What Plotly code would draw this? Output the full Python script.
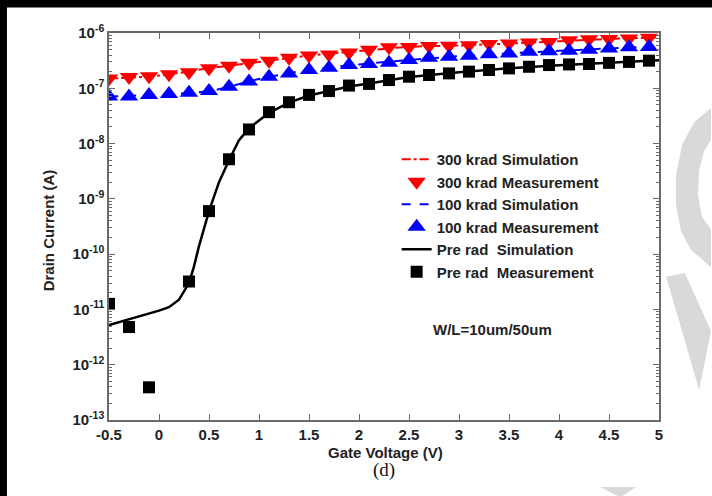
import plotly.graph_objects as go

# Gate voltage grid of the measurements (V)
vg_meas = [-0.5, -0.3, -0.1, 0.1, 0.3, 0.5, 0.7, 0.9, 1.1, 1.3, 1.5, 1.7, 1.9, 2.1,
           2.3, 2.5, 2.7, 2.9, 3.1, 3.3, 3.5, 3.7, 3.9, 4.1, 4.3, 4.5, 4.7, 4.9]

# 300 krad measurement (A)
id_300_meas = [1.5e-7, 1.6e-7, 1.65e-7, 1.8e-7, 1.95e-7, 2.3e-7, 2.55e-7, 2.9e-7, 3.15e-7,
               3.55e-7, 3.9e-7, 4.1e-7, 4.45e-7, 5.0e-7, 5.5e-7, 5.6e-7, 5.8e-7, 5.9e-7,
               6.0e-7, 6.3e-7, 6.45e-7, 6.75e-7, 6.9e-7, 7.4e-7, 7.7e-7, 7.8e-7, 7.95e-7, 8.2e-7]

# 100 krad measurement (A)
id_100_meas = [7.1e-8, 7.1e-8, 7.6e-8, 7.9e-8, 8.3e-8, 8.9e-8, 1.07e-7, 1.32e-7, 1.62e-7,
               1.86e-7, 2.14e-7, 2.34e-7, 2.63e-7, 2.75e-7, 2.9e-7, 3.24e-7, 3.55e-7, 3.72e-7,
               3.89e-7, 4.12e-7, 4.27e-7, 4.57e-7, 4.68e-7, 4.79e-7, 5.0e-7, 5.25e-7, 5.5e-7, 5.6e-7]

# Pre-rad measurement (no point at 0.1 V)
vg_pre_meas = [-0.5, -0.3, -0.1, 0.3, 0.5, 0.7, 0.9, 1.1, 1.3, 1.5, 1.7, 1.9, 2.1, 2.3,
               2.5, 2.7, 2.9, 3.1, 3.3, 3.5, 3.7, 3.9, 4.1, 4.3, 4.5, 4.7, 4.9]
id_pre_meas = [1.26e-11, 4.8e-12, 3.9e-13, 3.2e-11, 6.0e-10, 5.2e-9, 1.8e-8, 3.7e-8, 5.6e-8,
               7.6e-8, 8.9e-8, 1.12e-7, 1.2e-7, 1.41e-7, 1.62e-7, 1.74e-7, 1.86e-7, 2.0e-7,
               2.14e-7, 2.29e-7, 2.45e-7, 2.63e-7, 2.7e-7, 2.75e-7, 2.88e-7, 3.0e-7, 3.16e-7]

# Simulated curves
vg_sim = [-0.5, 0.0, 0.5, 1.0, 1.5, 2.0, 2.5, 3.0, 3.5, 4.0, 4.5, 5.0]
id_300_sim = [1.5e-7, 1.7e-7, 2.3e-7, 3.0e-7, 3.9e-7, 4.7e-7, 5.6e-7, 5.95e-7, 6.45e-7,
              7.1e-7, 7.8e-7, 8.3e-7]
id_100_sim = [7.1e-8, 7.7e-8, 8.9e-8, 1.47e-7, 2.14e-7, 2.7e-7, 3.24e-7, 3.8e-7, 4.27e-7,
              4.75e-7, 5.25e-7, 5.7e-7]

vg_pre_sim = [-0.5, -0.25, 0.0, 0.1, 0.2, 0.3, 0.35, 0.4, 0.45, 0.5, 0.6, 0.7, 0.8, 0.9,
              1.1, 1.3, 1.5, 1.7, 1.9, 2.1, 2.5, 3.0, 3.5, 4.0, 4.5, 5.0]
id_pre_sim = [5.2e-12, 7.0e-12, 9.5e-12, 1.1e-11, 1.5e-11, 3.0e-11, 6.0e-11, 1.4e-10, 3.0e-10,
              6.0e-10, 2.0e-9, 5.0e-9, 1.15e-8, 1.9e-8, 3.6e-8, 5.5e-8, 7.4e-8, 9.0e-8,
              1.08e-7, 1.22e-7, 1.6e-7, 1.95e-7, 2.3e-7, 2.6e-7, 2.9e-7, 3.2e-7]

x_ticks = [-0.5, 0, 0.5, 1, 1.5, 2, 2.5, 3, 3.5, 4, 4.5, 5]
x_tick_text = ["-0.5", "0", "0.5", "1", "1.5", "2", "2.5", "3", "3.5", "4", "4.5", "5"]
y_exponents = [-13, -12, -11, -10, -9, -8, -7, -6]

FONT = "Liberation Sans, Arial, sans-serif"
RED = "#ff0000"
BLUE = "#0000ff"
INK = "#222222"

fig = go.Figure()
fig.add_trace(go.Scatter(x=vg_sim, y=id_300_sim, mode="lines", name="300 krad Simulation",
                         line=dict(color=RED, width=2, dash="dashdot", shape="spline")))
fig.add_trace(go.Scatter(x=vg_meas, y=id_300_meas, mode="markers", name="300 krad Measurement",
                         marker=dict(symbol="triangle-down", color=RED, size=16)))
fig.add_trace(go.Scatter(x=vg_sim, y=id_100_sim, mode="lines", name="100 krad Simulation",
                         line=dict(color=BLUE, width=2, dash="dash", shape="spline")))
fig.add_trace(go.Scatter(x=vg_meas, y=id_100_meas, mode="markers", name="100 krad Measurement",
                         marker=dict(symbol="triangle-up", color=BLUE, size=16)))
fig.add_trace(go.Scatter(x=vg_pre_sim, y=id_pre_sim, mode="lines", name="Pre rad  Simulation",
                         line=dict(color="black", width=2.5)))
fig.add_trace(go.Scatter(x=vg_pre_meas, y=id_pre_meas, mode="markers", name="Pre rad  Measurement",
                         marker=dict(symbol="square", color="black", size=12)))

axis_common = dict(
    showgrid=False, zeroline=False, showline=True, linecolor="#6a6a6a", linewidth=1.5,
    mirror="ticks", ticks="inside", tickcolor="#6a6a6a", ticklen=6, tickwidth=1,
    tickfont=dict(family=FONT, size=15, color=INK, weight="bold"),
)

fig.update_xaxes(range=[-0.5, 5], tickmode="array", tickvals=x_ticks, ticktext=x_tick_text,
                 **axis_common)
fig.update_yaxes(type="log", range=[-13, -6], tickmode="array",
                 tickvals=[10.0 ** e for e in y_exponents],
                 ticktext=[f"10<sup>{e}</sup>" for e in y_exponents],
                 minor=dict(ticks="inside", ticklen=3, tickcolor="#6a6a6a", dtick="D1"),
                 **axis_common)

# Axis titles, panel label and device geometry note
label_font = dict(family=FONT, size=15, color=INK, weight="bold")
fig.add_annotation(text="Drain Current (A)", xref="paper", yref="paper", x=-0.111, y=0.49,
                   xanchor="center", yanchor="middle", textangle=-90, showarrow=False,
                   font=label_font)
fig.add_annotation(text="Gate Voltage (V)", xref="paper", yref="paper", x=0.502, y=-0.083,
                   xanchor="center", yanchor="middle", showarrow=False, font=label_font)
fig.add_annotation(text="(d)", xref="paper", yref="paper", x=0.5, y=-0.129,
                   xanchor="center", yanchor="middle", showarrow=False,
                   font=dict(family="Liberation Serif, Times New Roman, serif", size=19, color="#111"))
fig.add_annotation(text="W/L=10um/50um", xref="paper", yref="paper", x=0.698, y=0.235,
                   xanchor="center", yanchor="middle", showarrow=False, font=label_font)

# Dark border along the top and left edges of the page
fig.add_shape(type="rect", xref="paper", yref="paper", x0=-0.2, x1=1.1, y0=1.066, y1=1.1,
              fillcolor="black", line_width=0, layer="above")
fig.add_shape(type="rect", xref="paper", yref="paper", x0=-0.2, x1=-0.1855, y0=-0.2, y1=1.1,
              fillcolor="black", line_width=0, layer="above")

# Light grey watermark strokes on the right
fig.add_shape(type="path", xref="paper", yref="paper", layer="below",
              path="M 1.0945 0.806 L 1.064 0.770 L 1.042 0.711 L 1.031 0.633 L 1.031 0.556 "
                   "L 1.040 0.488 L 1.058 0.440 L 1.0945 0.395 L 1.0945 0.493 L 1.078 0.525 "
                   "L 1.071 0.581 L 1.073 0.646 L 1.082 0.695 L 1.0945 0.724 Z",
              fillcolor="#d9d9d9", line_width=0)
fig.add_shape(type="path", xref="paper", yref="paper", layer="below",
              path="M 1.013 0.370 L 1.047 0.380 L 1.0945 0.230 L 1.073 0.078 Z",
              fillcolor="#d9d9d9", line_width=0)
fig.add_shape(type="path", xref="paper", yref="paper", layer="below",
              path="M 0.893 -0.173 L 0.958 -0.173 L 0.930 -0.2 Z",
              fillcolor="#d9d9d9", line_width=0)

fig.update_layout(
    width=712, height=496,
    margin=dict(l=109, r=53, t=33, b=76),
    paper_bgcolor="white", plot_bgcolor="white",
    showlegend=True,
    legend=dict(x=0.523, y=0.716, xanchor="left", yanchor="top", bgcolor="rgba(0,0,0,0)",
                font=dict(family=FONT, size=15, color=INK, weight="bold"),
                tracegroupgap=0),
)

fig.write_html("out.html")
